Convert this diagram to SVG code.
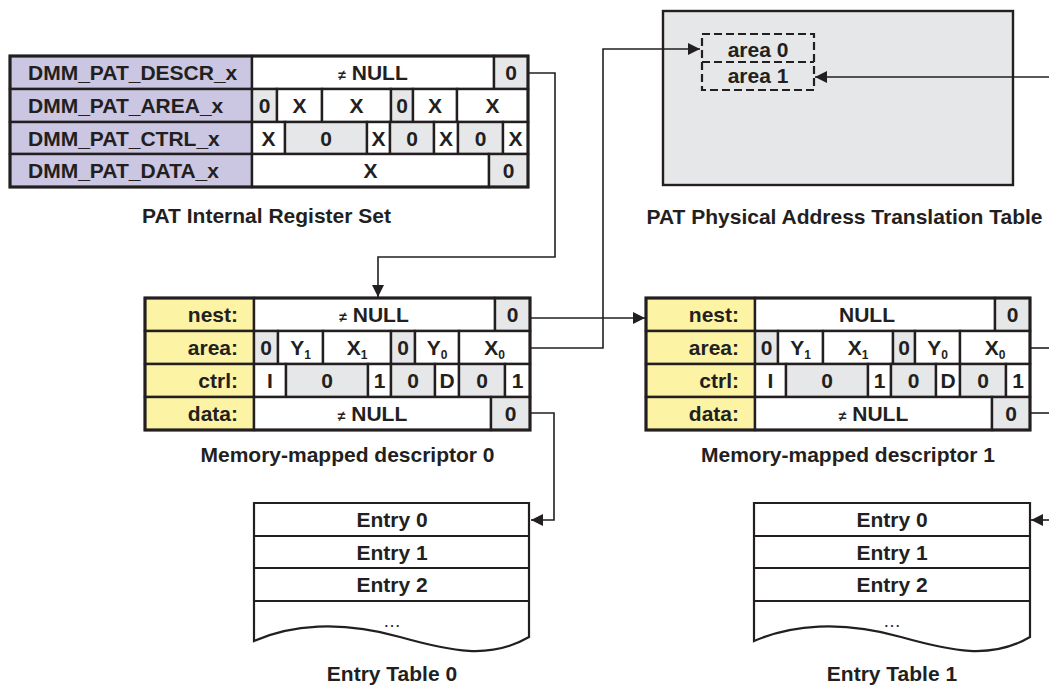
<svg xmlns="http://www.w3.org/2000/svg" width="1049" height="685" viewBox="0 0 1049 685">
<style>
text{font-family:"Liberation Sans",Arial,sans-serif;font-weight:bold;font-size:21px;fill:#231f20}
.c{text-anchor:middle}
.r{text-anchor:end}
.ne{font-size:14px}
.sub{font-size:12px}
.ell{font-weight:normal;font-size:18px}
rect{stroke:#231f20;stroke-width:2.4}
.w{fill:#ffffff}
.g{fill:#e6e7e8}
.lp{fill:#cbc6e2}
.ly{fill:#fcf3a5}
.ob{fill:none;stroke-width:3}
.conn{fill:none;stroke:#231f20;stroke-width:1.6}
.dash{fill:none;stroke:#231f20;stroke-width:2.2;stroke-dasharray:8 4}
.tbl{fill:#ffffff;stroke:#231f20;stroke-width:2.2}
.rl{stroke:#231f20;stroke-width:2.2}
</style>
<defs>
<marker id="ah" markerUnits="userSpaceOnUse" markerWidth="13" markerHeight="12" refX="12" refY="6" orient="auto">
<path d="M0,0 L12,6 L0,12 z" fill="#231f20"/>
</marker>
</defs>

<g id="register-set">
<rect class="lp" x="10" y="56" width="242" height="33"/>
<rect class="w" x="252" y="56" width="242" height="33"/>
<rect class="g" x="494" y="56" width="34" height="33"/>
<rect class="lp" x="10" y="89" width="242" height="33"/>
<rect class="g" x="252" y="89" width="25" height="33"/>
<rect class="w" x="277" y="89" width="45" height="33"/>
<rect class="w" x="322" y="89" width="69" height="33"/>
<rect class="g" x="391" y="89" width="22" height="33"/>
<rect class="w" x="413" y="89" width="44" height="33"/>
<rect class="w" x="457" y="89" width="71" height="33"/>
<rect class="lp" x="10" y="122" width="242" height="32"/>
<rect class="w" x="252" y="122" width="33" height="32"/>
<rect class="g" x="285" y="122" width="82" height="32"/>
<rect class="w" x="367" y="122" width="23" height="32"/>
<rect class="g" x="390" y="122" width="44" height="32"/>
<rect class="w" x="434" y="122" width="24" height="32"/>
<rect class="g" x="458" y="122" width="45" height="32"/>
<rect class="w" x="503" y="122" width="25" height="32"/>
<rect class="lp" x="10" y="154" width="242" height="33"/>
<rect class="w" x="252" y="154" width="237" height="33"/>
<rect class="g" x="489" y="154" width="39" height="33"/>
<rect class="ob" x="10" y="56" width="518" height="131"/>
<text x="28" y="80">DMM_PAT_DESCR_x</text>
<text x="28" y="113">DMM_PAT_AREA_x</text>
<text x="28" y="145.5">DMM_PAT_CTRL_x</text>
<text x="28" y="178">DMM_PAT_DATA_x</text>
<text class="c" x="373" y="80"><tspan class="ne">≠</tspan> NULL</text>
<text class="c" x="511" y="80">0</text>
<text class="c" x="264.5" y="113">0</text>
<text class="c" x="299.5" y="113">X</text>
<text class="c" x="356.5" y="113">X</text>
<text class="c" x="402" y="113">0</text>
<text class="c" x="435" y="113">X</text>
<text class="c" x="492.5" y="113">X</text>
<text class="c" x="268.5" y="145.5">X</text>
<text class="c" x="326" y="145.5">0</text>
<text class="c" x="378.5" y="145.5">X</text>
<text class="c" x="412" y="145.5">0</text>
<text class="c" x="446" y="145.5">X</text>
<text class="c" x="480.5" y="145.5">0</text>
<text class="c" x="515.5" y="145.5">X</text>
<text class="c" x="370.5" y="178">X</text>
<text class="c" x="508.5" y="178">0</text>
<text class="c" x="266.5" y="223">PAT Internal Register Set</text>
</g>

<g id="pat-table">
<rect x="663" y="11" width="350" height="174" fill="#e6e7e8" stroke-width="2.8"/>
<rect class="dash" x="702" y="34" width="112" height="56"/>
<line class="dash" x1="702" y1="62" x2="814" y2="62"/>
<text class="c" x="758" y="57">area 0</text>
<text class="c" x="758" y="83">area 1</text>
<text class="c" x="844.5" y="224">PAT Physical Address Translation Table</text>
</g>

<g id="descriptor-0">
<rect class="ly" x="145" y="298" width="109" height="33"/>
<rect class="w" x="254" y="298" width="241" height="33"/>
<rect class="g" x="495" y="298" width="35" height="33"/>
<rect class="ly" x="145" y="331" width="109" height="33"/>
<rect class="g" x="254" y="331" width="24" height="33"/>
<rect class="w" x="278" y="331" width="45" height="33"/>
<rect class="w" x="323" y="331" width="68" height="33"/>
<rect class="g" x="391" y="331" width="24" height="33"/>
<rect class="w" x="415" y="331" width="44" height="33"/>
<rect class="w" x="459" y="331" width="71" height="33"/>
<rect class="ly" x="145" y="364" width="109" height="33"/>
<rect class="w" x="254" y="364" width="32" height="33"/>
<rect class="g" x="286" y="364" width="82" height="33"/>
<rect class="w" x="368" y="364" width="23" height="33"/>
<rect class="g" x="391" y="364" width="44" height="33"/>
<rect class="w" x="435" y="364" width="24" height="33"/>
<rect class="g" x="459" y="364" width="46" height="33"/>
<rect class="w" x="505" y="364" width="25" height="33"/>
<rect class="ly" x="145" y="397" width="109" height="33"/>
<rect class="w" x="254" y="397" width="237" height="33"/>
<rect class="g" x="491" y="397" width="39" height="33"/>
<rect class="ob" x="145" y="298" width="385" height="132"/>
<text class="r" x="238" y="322">nest:</text>
<text class="r" x="238" y="355">area:</text>
<text class="r" x="238" y="388">ctrl:</text>
<text class="r" x="238" y="421">data:</text>
<text class="c" x="374" y="322"><tspan class="ne">≠</tspan> NULL</text>
<text class="c" x="512.5" y="322">0</text>
<text class="c" x="266" y="355">0</text>
<text class="c" x="300.5" y="355">Y<tspan class="sub" dy="4">1</tspan></text>
<text class="c" x="357" y="355">X<tspan class="sub" dy="4">1</tspan></text>
<text class="c" x="403" y="355">0</text>
<text class="c" x="437" y="355">Y<tspan class="sub" dy="4">0</tspan></text>
<text class="c" x="494.5" y="355">X<tspan class="sub" dy="4">0</tspan></text>
<text class="c" x="270" y="388">I</text>
<text class="c" x="327" y="388">0</text>
<text class="c" x="379.5" y="388">1</text>
<text class="c" x="413" y="388">0</text>
<text class="c" x="447" y="388">D</text>
<text class="c" x="482" y="388">0</text>
<text class="c" x="517.5" y="388">1</text>
<text class="c" x="372.5" y="421"><tspan class="ne">≠</tspan> NULL</text>
<text class="c" x="510.5" y="421">0</text>
<text class="c" x="347.5" y="462">Memory-mapped descriptor 0</text>
</g>

<g id="descriptor-1">
<rect class="ly" x="646" y="298" width="109" height="33"/>
<rect class="w" x="755" y="298" width="240" height="33"/>
<rect class="g" x="995" y="298" width="35" height="33"/>
<rect class="ly" x="646" y="331" width="109" height="33"/>
<rect class="g" x="755" y="331" width="23" height="33"/>
<rect class="w" x="778" y="331" width="45" height="33"/>
<rect class="w" x="823" y="331" width="70" height="33"/>
<rect class="g" x="893" y="331" width="22" height="33"/>
<rect class="w" x="915" y="331" width="45" height="33"/>
<rect class="w" x="960" y="331" width="70" height="33"/>
<rect class="ly" x="646" y="364" width="109" height="33"/>
<rect class="w" x="755" y="364" width="31" height="33"/>
<rect class="g" x="786" y="364" width="82" height="33"/>
<rect class="w" x="868" y="364" width="23" height="33"/>
<rect class="g" x="891" y="364" width="45" height="33"/>
<rect class="w" x="936" y="364" width="24" height="33"/>
<rect class="g" x="960" y="364" width="46" height="33"/>
<rect class="w" x="1006" y="364" width="24" height="33"/>
<rect class="ly" x="646" y="397" width="109" height="33"/>
<rect class="w" x="755" y="397" width="237" height="33"/>
<rect class="g" x="992" y="397" width="38" height="33"/>
<rect class="ob" x="646" y="298" width="384" height="132"/>
<text class="r" x="739" y="322">nest:</text>
<text class="r" x="739" y="355">area:</text>
<text class="r" x="739" y="388">ctrl:</text>
<text class="r" x="739" y="421">data:</text>
<text class="c" x="867" y="322">NULL</text>
<text class="c" x="1012.5" y="322">0</text>
<text class="c" x="766.5" y="355">0</text>
<text class="c" x="800.5" y="355">Y<tspan class="sub" dy="4">1</tspan></text>
<text class="c" x="858" y="355">X<tspan class="sub" dy="4">1</tspan></text>
<text class="c" x="904" y="355">0</text>
<text class="c" x="937.5" y="355">Y<tspan class="sub" dy="4">0</tspan></text>
<text class="c" x="995" y="355">X<tspan class="sub" dy="4">0</tspan></text>
<text class="c" x="770.5" y="388">I</text>
<text class="c" x="827" y="388">0</text>
<text class="c" x="879.5" y="388">1</text>
<text class="c" x="913.5" y="388">0</text>
<text class="c" x="948" y="388">D</text>
<text class="c" x="983" y="388">0</text>
<text class="c" x="1018" y="388">1</text>
<text class="c" x="873.5" y="421"><tspan class="ne">≠</tspan> NULL</text>
<text class="c" x="1011" y="421">0</text>
<text class="c" x="848" y="462">Memory-mapped descriptor 1</text>
</g>

<g id="entry-table-0">
<path class="tbl" d="M254,503 H529 V637 C490,660 450,651 400,637 C340,620 290,625 254,641 Z"/>
<line class="rl" x1="254" y1="536" x2="529" y2="536"/>
<line class="rl" x1="254" y1="568" x2="529" y2="568"/>
<line class="rl" x1="254" y1="601" x2="529" y2="601"/>
<text class="c" x="392" y="527">Entry 0</text>
<text class="c" x="392" y="560">Entry 1</text>
<text class="c" x="392" y="592">Entry 2</text>
<text class="c ell" x="392" y="627">…</text>
<text class="c" x="392" y="681">Entry Table 0</text>
</g>

<g id="entry-table-1">
<path class="tbl" d="M754,503 H1030 V637 C991,660 951,651 901,637 C841,620 791,625 754,641 Z"/>
<line class="rl" x1="754" y1="536" x2="1030" y2="536"/>
<line class="rl" x1="754" y1="568" x2="1030" y2="568"/>
<line class="rl" x1="754" y1="601" x2="1030" y2="601"/>
<text class="c" x="892" y="527">Entry 0</text>
<text class="c" x="892" y="560">Entry 1</text>
<text class="c" x="892" y="592">Entry 2</text>
<text class="c ell" x="892" y="627">…</text>
<text class="c" x="892" y="681">Entry Table 1</text>
</g>

<g id="connectors">
<path class="conn" d="M528,73 H555 V257 H378 V297" marker-end="url(#ah)"/>
<path class="conn" d="M530,318 H645" marker-end="url(#ah)"/>
<path class="conn" d="M530,348 H603 V49 H700" marker-end="url(#ah)"/>
<path class="conn" d="M530,413 H554 V520 H531" marker-end="url(#ah)"/>
<path class="conn" d="M1049,77 H815" marker-end="url(#ah)"/>
<path class="conn" d="M1030,348 H1049"/>
<path class="conn" d="M1030,413 H1049"/>
<path class="conn" d="M1049,520 H1031" marker-end="url(#ah)"/>
</g>
</svg>
